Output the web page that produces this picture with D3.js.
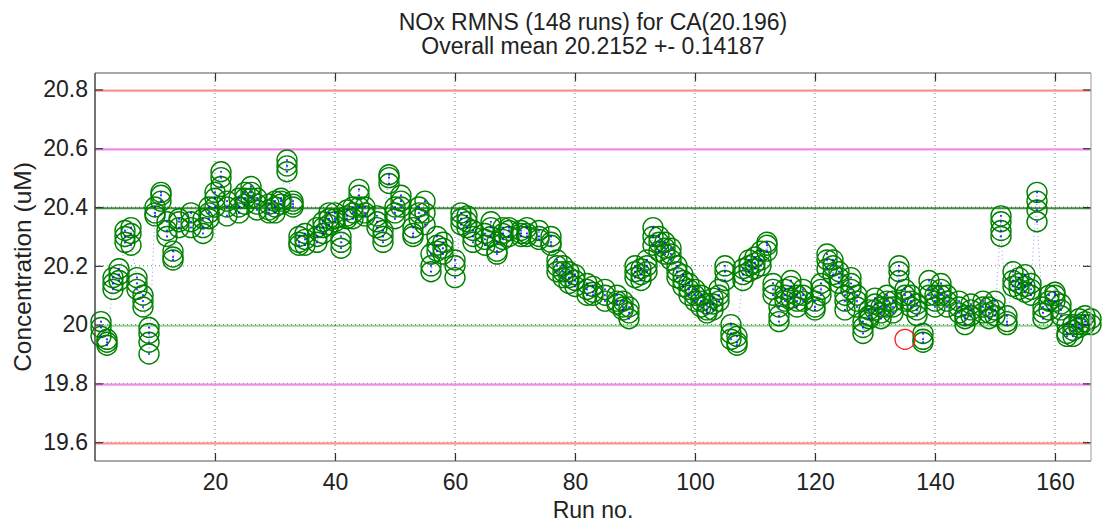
<!DOCTYPE html>
<html><head><meta charset="utf-8">
<script src="https://cdn.jsdelivr.net/npm/d3@7"></script>
<style>
html,body{margin:0;padding:0;background:#fff;}
svg text{font-family:"Liberation Sans",Arial,Helvetica,sans-serif;fill:#222;}
</style></head>
<body><svg id="chart" width="1103" height="524"></svg>
<script>
// ---- data ----
const titleLines = ["NOx RMNS (148 runs) for CA(20.196)", "Overall mean 20.2152 +- 0.14187"];
const xLabel = "Run no.";
const yLabel = "Concentration (uM)";
const xTicks = [20, 40, 60, 80, 100, 120, 140, 160];
const yTicks = [19.6, 19.8, 20, 20.2, 20.4, 20.6, 20.8];
const certified = 20.196;
const limitOffsets = [0.2, 0.4, 0.6];
const runs = [1,2,3,4,5,6,7,8,9,10,11,12,13,14,16,18,19,20,21,22,24,25,26,27,29,30,31,32,33,34,35,37,38,39,40,41,42,43,44,45,47,48,49,50,51,53,54,55,56,57,58,60,61,62,63,65,66,67,68,69,71,72,74,76,77,78,79,80,82,83,85,87,88,89,90,91,92,93,94,95,96,97,98,99,100,101,102,103,104,105,106,107,108,109,110,111,112,113,114,115,116,117,118,120,121,122,123,124,125,126,127,128,129,130,131,132,133,134,135,136,137,138,139,140,141,142,144,145,146,148,149,150,151,152,153,154,155,156,157,158,159,160,161,162,163,164,165,166];
const conc = [
 [20.01,19.99,19.96],[19.95,19.93,19.94],[20.14,20.12,20.16],[20.17,20.19,20.15],[20.28,20.30,20.32],
 [20.33,20.31,20.27],[20.16,20.14,20.12],[20.10,20.08,20.06],[19.99,19.97,19.94,19.90],[20.38,20.40,20.37],
 [20.44,20.45,20.42],[20.35,20.32,20.30],[20.25,20.23,20.22],[20.33,20.35,20.36],[20.35,20.38,20.33],
 [20.33,20.31,20.36],[20.38,20.36,20.40],[20.43,20.40,20.45],[20.52,20.50,20.47],[20.40,20.37,20.42],
 [20.40,20.43,20.38],[20.43,20.45,20.41],[20.45,20.47,20.43],[20.41,20.39,20.43],[20.41,20.39,20.38],
 [20.40,20.38,20.42],[20.43,20.41,20.42],[20.56,20.54,20.52],[20.42,20.40,20.41],[20.30,20.28,20.27],
 [20.31,20.29,20.27],[20.33,20.30,20.28],[20.35,20.33,20.31],[20.38,20.36,20.34],[20.36,20.38,20.35],
 [20.30,20.28,20.26],[20.37,20.39,20.36],[20.38,20.40,20.36],[20.46,20.44,20.40],[20.40,20.38,20.37],
 [20.37,20.35,20.33],[20.30,20.28,20.32],[20.51,20.50,20.48],[20.38,20.36,20.40],[20.42,20.40,20.44],
 [20.33,20.31,20.30],[20.40,20.38,20.36],[20.42,20.38,20.34],[20.24,20.20,20.18],[20.30,20.27,20.25],
 [20.26,20.24,20.28],[20.22,20.20,20.16],[20.36,20.38,20.34],[20.35,20.33,20.37],[20.30,20.28,20.32],
 [20.31,20.29,20.27],[20.35,20.33,20.30],[20.28,20.25,20.24],[20.31,20.33,20.29],[20.32,20.30,20.33],
 [20.32,20.30,20.31],[20.33,20.31,20.30],[20.30,20.32,20.29],[20.28,20.30,20.27],[20.22,20.20,20.18],
 [20.20,20.18,20.16],[20.18,20.16,20.14],[20.17,20.15,20.13],[20.14,20.12,20.10],[20.13,20.11,20.10],
 [20.12,20.10,20.08],[20.10,20.08,20.07],[20.08,20.06,20.05],[20.06,20.04,20.02],[20.18,20.16,20.20],
 [20.17,20.19,20.15],[20.20,20.18,20.22],[20.30,20.33,20.27],[20.28,20.25,20.30],[20.26,20.24,20.28],
 [20.24,20.22,20.26],[20.18,20.16,20.20],[20.15,20.13,20.17],[20.12,20.10,20.14],[20.10,20.12,20.08],
 [20.08,20.06,20.10],[20.05,20.07,20.04],[20.07,20.09,20.05],[20.10,20.08,20.12],[20.18,20.20,20.15],
 [20.00,19.97,19.95],[19.94,19.93,19.96],[20.17,20.19,20.15],[20.20,20.18,20.22],[20.21,20.19,20.23],
 [20.22,20.25,20.20],[20.27,20.25,20.28],[20.14,20.12,20.10],[20.06,20.03,20.01],[20.10,20.08,20.12],
 [20.13,20.15,20.09],[20.10,20.06,20.08],[20.10,20.08,20.12],[20.05,20.08,20.06],[20.12,20.10,20.14],
 [20.22,20.19,20.24],[20.20,20.17,20.22],[20.16,20.18,20.14],[20.05,20.08,20.10],[20.14,20.16,20.12],
 [20.08,20.10,20.06],[20.01,19.99,19.97],[20.03,20.05,20.02],[20.09,20.07,20.05],[20.04,20.02,20.06],
 [20.10,20.08,20.06],[20.06,20.04,20.08],[20.20,20.18,20.15],[20.10,20.12,20.08],[20.08,20.06,20.10],
 [20.05,20.03,20.07],[19.97,19.95,19.94],[20.15,20.12,20.10],[20.08,20.10,20.06],[20.14,20.12,20.10],
 [20.10,20.08,20.06],[20.06,20.04,20.08],[20.03,20.00,20.02],[20.05,20.03,20.07],[20.06,20.08,20.04],
 [20.02,20.06,20.04],[20.08,20.05,20.03],[20.37,20.35,20.32,20.30],[20.03,20.01,20.00],[20.18,20.15,20.13],
 [20.16,20.12,20.14],[20.17,20.13,20.11],[20.10,20.12,20.14],[20.45,20.42,20.39,20.35],[20.04,20.02,20.06],
 [20.08,20.10,20.05],[20.10,20.11,20.08],[20.05,20.07,20.03],[20.00,19.97,19.96],[19.98,19.96,20.00],
 [20.02,20.00,19.99],[20.03,20.01,20.00],[20.00,20.02]
];
const flaggedRun = [135];
const flaggedConc = [19.95];

// ---- drawing ----
const svg = d3.select("#chart");
const L = 95, R = 1091, T = 73, B = 461;
const x = d3.scaleLinear().domain([0, 166]).range([L, R]);
const y = d3.scaleLinear().domain([certified - 0.66, certified + 0.66]).range([B, T]);

const pts = [];
runs.forEach((r, i) => conc[i].forEach(v => pts.push({r, v})));

// limit lines: green (±0.2) beneath grid, magenta/red above grid
const limColors = [["#3f8f3f", "#92d692"], ["#f08cf0", "#f08cf0"], ["#ff9090", "#ff9090"]];
function limLine(i, w) {
  const o = limitOffsets[i];
  [[certified + o, limColors[i][0]], [certified - o, limColors[i][1]]].forEach(([v, c]) => {
    svg.append("line").attr("x1", L).attr("x2", R).attr("y1", y(v)).attr("y2", y(v))
      .attr("stroke", c).attr("stroke-width", w);
  });
}
limLine(0, 2);

// grid (the 20.6 / 20.8 grid lines are hidden under the limit lines in the original)
const yGrid = yTicks.filter(t => t < 20.5);
const g = svg.append("g");
g.selectAll(".gx").data(xTicks).join("line")
  .attr("x1", d => x(d)).attr("x2", d => x(d)).attr("y1", T).attr("y2", B)
  .attr("stroke", "#000").attr("stroke-opacity", 0.55).attr("stroke-width", 1).attr("stroke-dasharray", "1,3");
g.selectAll(".gy").data(yGrid).join("line")
  .attr("x1", L).attr("x2", R).attr("y1", d => y(d)).attr("y2", d => y(d))
  .attr("stroke", "#000").attr("stroke-opacity", 0.55).attr("stroke-width", 1).attr("stroke-dasharray", "1,3");

limLine(1, 2.2);
limLine(2, 2.2);

// blue dotted connecting line
svg.append("path").datum(pts)
  .attr("d", d3.line().x(d => x(d.r)).y(d => y(d.v)))
  .attr("fill", "none").attr("stroke", "#3030ff").attr("stroke-opacity", 0.5)
  .attr("stroke-width", 1).attr("stroke-dasharray", "1,3");

// green circles
svg.append("g").selectAll("circle").data(pts).join("circle")
  .attr("cx", d => x(d.r)).attr("cy", d => y(d.v)).attr("r", 10)
  .attr("fill", "none").attr("stroke", "#008000").attr("stroke-width", 1.4);

// blue point markers
svg.append("g").selectAll("circle").data(pts).join("circle")
  .attr("cx", d => x(d.r)).attr("cy", d => y(d.v)).attr("r", 1.1)
  .attr("fill", "#0000ff").attr("fill-opacity", 0.8);

// flagged red circle
svg.append("g").selectAll("circle").data(flaggedRun).join("circle")
  .attr("cx", d => x(d)).attr("cy", (d, i) => y(flaggedConc[i])).attr("r", 10)
  .attr("fill", "none").attr("stroke", "#ff2020").attr("stroke-width", 1.3);

// axes
const fs = "23px";
const ax = svg.append("g").attr("transform", `translate(0,${B})`)
  .call(d3.axisBottom(x).tickValues(xTicks).tickSize(-8).tickSizeOuter(0).tickPadding(13));
const ay = svg.append("g").attr("transform", `translate(${L},0)`)
  .call(d3.axisLeft(y).tickValues(yTicks).tickFormat(d3.format("~g")).tickSize(-8).tickSizeOuter(0).tickPadding(7));
const axT = svg.append("g").attr("transform", `translate(0,${T})`)
  .call(d3.axisTop(x).tickValues(xTicks).tickSize(-8).tickSizeOuter(0).tickFormat(""));
const ayR = svg.append("g").attr("transform", `translate(${R},0)`)
  .call(d3.axisRight(y).tickValues(yTicks).tickSize(-8).tickSizeOuter(0).tickFormat(""));
[ax, ay, axT, ayR].forEach(a => {
  a.select(".domain").remove();
  a.selectAll("line").attr("stroke", "#333").attr("stroke-width", 1.2);
  a.selectAll("text").attr("font-size", fs).attr("fill", "#222")
    .style("font-family", '"Liberation Sans",Arial,sans-serif');
});

// frame
svg.append("line").attr("x1", L).attr("x2", L).attr("y1", T).attr("y2", B).attr("stroke", "#444").attr("stroke-width", 1.5);
svg.append("line").attr("x1", L).attr("x2", R).attr("y1", B).attr("y2", B).attr("stroke", "#555").attr("stroke-width", 1.2);
svg.append("line").attr("x1", L).attr("x2", R).attr("y1", T).attr("y2", T).attr("stroke", "#555").attr("stroke-width", 1.2);
svg.append("line").attr("x1", R).attr("x2", R).attr("y1", T).attr("y2", B).attr("stroke", "#aaa").attr("stroke-width", 1.2);

// titles and labels
const cx = (L + R) / 2;
svg.selectAll(".title").data(titleLines).join("text")
  .attr("x", cx).attr("y", (d, i) => 30 + i * 24).attr("text-anchor", "middle")
  .attr("font-size", fs).text(d => d);
svg.append("text").attr("x", cx).attr("y", 518).attr("text-anchor", "middle")
  .attr("font-size", fs).text(xLabel);
svg.append("text").attr("transform", `translate(31,${(T + B) / 2}) rotate(-90)`)
  .attr("text-anchor", "middle").attr("font-size", "24.5px").text(yLabel);
</script></body></html>
